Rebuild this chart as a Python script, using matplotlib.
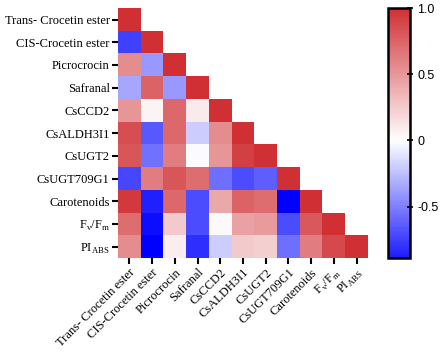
import numpy as np
import matplotlib.pyplot as plt
from matplotlib.colors import LinearSegmentedColormap

labels = ['Trans- Crocetin ester', 'CIS-Crocetin ester', 'Picrocrocin', 'Safranal',
          'CsCCD2', 'CsALDH3I1', 'CsUGT2', 'CsUGT709G1', 'Carotenoids',
          r'F$_\mathregular{v}$/F$_\mathregular{m}$', r'PI$_\mathregular{ABS}$']

# lower triangle of the correlation matrix, row by row (diagonal included)
rows = [
    [1.0],
    [-0.75, 1.0],
    [0.55, -0.40, 1.0],
    [-0.35, 0.75, -0.40, 1.0],
    [0.50, 0.05, 0.72, 0.10, 1.0],
    [0.85, -0.65, 0.72, -0.20, 0.55, 1.0],
    [0.82, -0.55, 0.62, -0.02, 0.50, 0.92, 1.0],
    [-0.72, 0.62, 0.82, 0.70, -0.57, -0.70, -0.63, 1.0],
    [0.95, -0.87, 0.72, -0.70, 0.42, 0.75, 0.70, -1.0, 1.0],
    [0.70, -0.95, 0.25, -0.70, 0.03, 0.45, 0.48, -0.70, 0.80, 1.0],
    [0.55, -1.0, 0.08, -0.82, -0.20, 0.25, 0.23, -0.57, 0.62, 0.88, 1.0],
]

n = len(labels)
mat = np.full((n, n), np.nan)
for i, r in enumerate(rows):
    mat[i, :len(r)] = r
mat = np.ma.masked_invalid(mat)

cmap = LinearSegmentedColormap.from_list('bwr2', ['#0000ff', '#ffffff', '#d03034'])

fig = plt.figure(figsize=(4.47, 3.56), dpi=100)
ax = fig.add_axes([0.264, 0.275, 0.559, 0.702])
im = ax.imshow(mat, cmap=cmap, vmin=-1, vmax=1, aspect='auto')

for s in ax.spines.values():
    s.set_visible(False)
ax.set_xticks(range(n))
ax.set_yticks(range(n))
ax.set_xticklabels(labels, rotation=45, ha='right', rotation_mode='anchor',
                   family='Liberation Serif', fontsize=9)
ax.set_yticklabels(labels, family='Liberation Serif', fontsize=9)
ax.tick_params(length=4, width=1.5, color='black', pad=2)

cax = fig.add_axes([0.868, 0.275, 0.049, 0.702])
cbar = fig.colorbar(im, cax=cax, boundaries=np.linspace(-0.89, 1, 300),
                    ticks=[-0.5, 0, 0.5, 1.0])
cbar.ax.set_yticklabels(['-0.5', '0', '0.5', '1.0'], family='Liberation Sans', fontsize=9)
cbar.outline.set_linewidth(1.8)
cbar.ax.tick_params(length=4, width=1.2, direction='inout')

fig.savefig('out.png', dpi=100)
